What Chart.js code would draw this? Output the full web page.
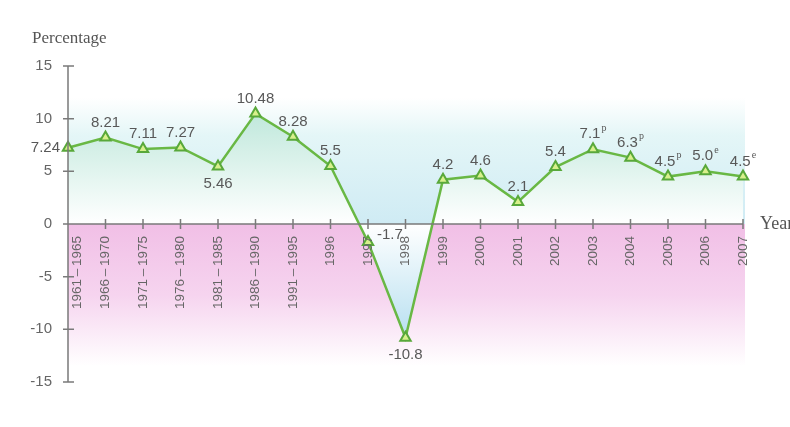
<!DOCTYPE html>
<html>
<head>
<meta charset="utf-8">
<script src="https://cdn.jsdelivr.net/npm/chart.js@4/dist/chart.umd.min.js"></script>
<style>
  html, body { margin: 0; padding: 0; background: #fff; }
  #wrap { width: 790px; height: 427px; }
</style>
</head>
<body>
<div id="wrap"><canvas id="grafico" width="790" height="427"></canvas></div>
<script>
// dati
const periodi = ["1961-1965", "1966-1970", "1971-1975", "1976-1980", "1981-1985",
  "1986-1990", "1991-1995", "1996", "1997", "1998", "1999", "2000", "2001",
  "2002", "2003", "2004", "2005", "2006", "2007"];
const crescita = [7.24, 8.21, 7.11, 7.27, 5.46, 10.48, 8.28, 5.5, -1.7, -10.8,
  4.2, 4.6, 2.1, 5.4, 7.1, 6.3, 4.5, 5.0, 4.5];
const etichette = ["7.24", "8.21", "7.11", "7.27", "5.46", "10.48", "8.28", "5.5", "-1.7", "-10.8",
  "4.2", "4.6", "2.1", "5.4", "7.1", "6.3", "4.5", "5.0", "4.5"];
const note = ["", "", "", "", "", "", "", "", "", "", "", "", "", "", "p", "p", "p", "e", "e"];
const tickY = [15, 10, 5, 0, -5, -10, -15];

// dove mettere le etichette rispetto al punto
const posEtichette = ["left", "above", "above", "above", "below", "above", "above", "above", "right", "below",
  "above", "above", "above", "above", "above", "above", "above", "above", "above"];

const GRIGIO = "#7a7a7a";
const TESTO = "#585858";
const SANS = "'Liberation Sans', Arial, sans-serif";
const SERIF = "'Liberation Serif', serif";

const sfondo = {
  id: "sfondo",
  beforeDatasetsDraw(chart) {
    const { ctx, scales } = chart;
    const x = scales.x, y = scales.y;
    const x0 = x.getPixelForValue(0), x1 = x.getPixelForValue(periodi.length - 1) + 2;
    const y0 = y.getPixelForValue(0);
    const yTop = y.getPixelForValue(12);
    const yBot = y.getPixelForValue(-13.5);

    let g = ctx.createLinearGradient(0, yTop, 0, y0);
    g.addColorStop(0, "rgba(255,255,255,1)");
    g.addColorStop(0.3, "#e4f6f7");
    g.addColorStop(1, "#cfebf4");
    ctx.fillStyle = g;
    ctx.fillRect(x0, yTop, x1 - x0, y0 - yTop);

    g = ctx.createLinearGradient(0, y0, 0, yBot);
    g.addColorStop(0, "#f1bfe6");
    g.addColorStop(0.5, "#f6d4ef");
    g.addColorStop(1, "rgba(255,255,255,1)");
    ctx.fillStyle = g;
    ctx.fillRect(x0, y0, x1 - x0, yBot - y0);
  },
};

const assi = {
  id: "assi",
  afterDatasetsDraw(chart) {
    const { ctx, scales } = chart;
    const x = scales.x, y = scales.y;
    const xa = x.getPixelForValue(0);
    const y0 = y.getPixelForValue(0);
    const xEnd = x.getPixelForValue(periodi.length - 1);

    ctx.save();
    ctx.strokeStyle = GRIGIO;
    ctx.lineWidth = 1.5;
    ctx.beginPath();
    ctx.moveTo(xa, y.getPixelForValue(15));
    ctx.lineTo(xa, y.getPixelForValue(-15));
    ctx.moveTo(xa, y0);
    ctx.lineTo(xEnd, y0);
    tickY.forEach(v => {
      const py = y.getPixelForValue(v);
      ctx.moveTo(xa - 5, py);
      ctx.lineTo(xa + 6, py);
    });
    periodi.forEach((p, i) => {
      if (i === 0) return;
      const px = x.getPixelForValue(i);
      ctx.moveTo(px, y0 - 5);
      ctx.lineTo(px, y0 + 5);
    });
    ctx.stroke();

    // etichette asse y
    ctx.fillStyle = "#666";
    ctx.font = "15px " + SANS;
    ctx.textAlign = "right";
    ctx.textBaseline = "middle";
    tickY.forEach(v => {
      ctx.fillText(String(v), xa - 16, y.getPixelForValue(v));
    });

    // etichette asse x, ruotate
    ctx.font = "13.5px " + SANS;
    periodi.forEach((p, i) => {
      const px = x.getPixelForValue(i) + (i === 0 ? 9 : 0);
      ctx.save();
      ctx.translate(px, y0 + 12);
      ctx.rotate(-Math.PI / 2);
      ctx.textAlign = "right";
      ctx.textBaseline = "middle";
      ctx.fillText(p.replace("-", "\u2009\u2013\u2009"), 0, 0);
      ctx.restore();
    });

    // titoli
    ctx.fillStyle = "#555";
    ctx.font = "17px " + SERIF;
    ctx.textAlign = "left";
    ctx.textBaseline = "alphabetic";
    ctx.fillText("Percentage", 32, 43);
    ctx.font = "18px " + SERIF;
    ctx.textBaseline = "middle";
    ctx.fillText("Year", 760, y0);

    // valori
    const meta = chart.getDatasetMeta(0);
    ctx.fillStyle = TESTO;
    meta.data.forEach((pt, i) => {
      const testo = etichette[i];
      ctx.font = "15px " + SANS;
      const w = ctx.measureText(testo).width;
      ctx.font = "10px " + SERIF;
      const wn = note[i] ? ctx.measureText(note[i]).width + 1 : 0;
      let cx = pt.x, cy = pt.y;
      switch (posEtichette[i]) {
        case "left": cx = pt.x - 8 - (w + wn) / 2; break;
        case "right": cx = pt.x + 9 + (w + wn) / 2; cy = pt.y - 7; break;
        case "below": cy = pt.y + 17; break;
        default: cy = pt.y - 15;
      }
      const sx = cx - (w + wn) / 2;
      ctx.font = "15px " + SANS;
      ctx.textAlign = "left";
      ctx.textBaseline = "middle";
      ctx.fillText(testo, sx, cy);
      if (note[i]) {
        ctx.font = "10px " + SERIF;
        ctx.fillText(note[i], sx + w + 1, cy - 6);
      }
    });
    ctx.restore();
  },
};

const ctx = document.getElementById("grafico").getContext("2d");

new Chart(ctx, {
  type: "line",
  data: {
    labels: periodi,
    datasets: [
      {
        data: crescita,
        borderColor: "#69b844",
        borderWidth: 2.5,
        tension: 0,
        fill: "origin",
        backgroundColor: function (c) {
          const chart = c.chart;
          if (!chart.chartArea) return "rgba(0,0,0,0)";
          const y = chart.scales.y;
          const g = chart.ctx.createLinearGradient(0, y.getPixelForValue(11), 0, y.getPixelForValue(-11));
          g.addColorStop(0, "#bde7da");
          g.addColorStop(0.5, "#ffffff");
          g.addColorStop(1, "#b6dff0");
          return g;
        },
        pointStyle: "triangle",
        pointRadius: 6,
        pointBackgroundColor: "#d8f08c",
        pointBorderColor: "#58a83a",
        pointBorderWidth: 2,
      },
    ],
  },
  options: {
    responsive: false,
    animation: false,
    layout: { padding: { left: 68, right: 47, top: 66, bottom: 45 } },
    plugins: { legend: { display: false }, tooltip: { enabled: false } },
    scales: {
      x: { display: false, offset: false },
      y: { display: false, min: -15, max: 15 },
    },
  },
  plugins: [sfondo, assi],
});
</script>
</body>
</html>
